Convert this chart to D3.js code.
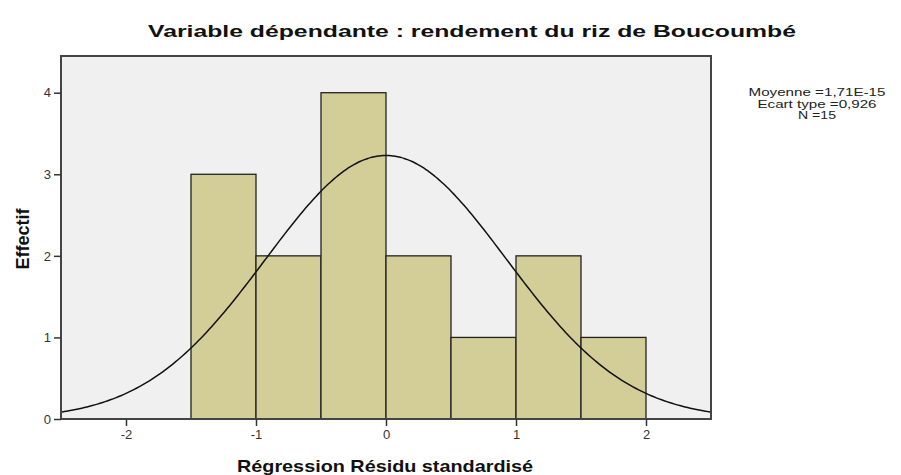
<!DOCTYPE html>
<html>
<head>
<meta charset="utf-8">
<script src="https://cdn.jsdelivr.net/npm/d3@7"></script>
<style>
  body { margin: 0; background: #fff; }
  text { font-family: "Liberation Sans", Arial, sans-serif; }
</style>
</head>
<body>
<div id="plot"></div>
<script>
// histogram bins (lower edge) and counts
const binStarts = [-1.5, -1.0, -0.5, 0.0, 0.5, 1.0, 1.5];
const binWidth = 0.5;
const counts = [3, 2, 4, 2, 1, 2, 1];
const xTicks = [-2, -1, 0, 1, 2];
const yTicks = [0, 1, 2, 3, 4];
const statLines = ["Moyenne =1,71E-15", "Ecart type =0,926", "N =15"];
const statWidths = [137, 119, 38];
const mean = 0, sd = 0.926, n = 15;

const svgWidth = 901, svgHeight = 475;
const margin = { top: 56, right: 190, bottom: 56, left: 61 };

const svg = d3.select("#plot").append("svg")
  .attr("width", svgWidth)
  .attr("height", svgHeight);

const xScale = d3.scaleLinear().domain([-2.5, 2.5]).range([margin.left, svgWidth - margin.right]);
const yScale = d3.scaleLinear().domain([0, 4.45]).range([svgHeight - margin.bottom, margin.top]);

// plot background
svg.append("rect")
  .attr("x", xScale(-2.5))
  .attr("y", yScale(4.45))
  .attr("width", xScale(2.5) - xScale(-2.5))
  .attr("height", yScale(0) - yScale(4.45))
  .style("fill", "#f0f0f0");

// bars
svg.selectAll(".bar")
  .data(binStarts)
  .enter()
  .append("rect")
  .attr("class", "bar")
  .attr("x", d => xScale(d))
  .attr("y", (d, i) => yScale(counts[i]))
  .attr("width", xScale(binWidth) - xScale(0))
  .attr("height", (d, i) => yScale(0) - yScale(counts[i]))
  .style("fill", "#d3cd98")
  .style("stroke", "#222")
  .style("stroke-width", 1.3);

// normal curve scaled to the histogram
const curveX = d3.range(-2.5, 2.501, 0.02);
const line = d3.line()
  .x(d => xScale(d))
  .y(d => yScale(n * binWidth * Math.exp(-0.5 * ((d - mean) / sd) ** 2) / (sd * Math.sqrt(2 * Math.PI))))
  .curve(d3.curveBasis);
svg.append("path")
  .datum(curveX)
  .attr("d", line)
  .style("fill", "none")
  .style("stroke", "#111")
  .style("stroke-width", 1.5);

// frame
svg.append("rect")
  .attr("x", xScale(-2.5))
  .attr("y", yScale(4.45))
  .attr("width", xScale(2.5) - xScale(-2.5))
  .attr("height", yScale(0) - yScale(4.45))
  .style("fill", "none")
  .style("stroke", "#444")
  .style("stroke-width", 2);

// axes (plain hyphen for negatives, like the original)
const fmt = d => String(d);
const xAxis = svg.append("g")
  .attr("transform", "translate(0," + yScale(0) + ")")
  .call(d3.axisBottom(xScale).tickValues(xTicks).tickSize(7).tickPadding(4).tickFormat(fmt));
const yAxis = svg.append("g")
  .attr("transform", "translate(" + xScale(-2.5) + ",0)")
  .call(d3.axisLeft(yScale).tickValues(yTicks).tickSize(7).tickPadding(3).tickFormat(fmt));
[xAxis, yAxis].forEach(a => {
  a.select(".domain").remove();
  a.selectAll("line").style("stroke", "#333").style("stroke-width", 1.5);
  a.selectAll("text").style("font-size", "13px").style("fill", "#333")
    .style("font-family", "'Liberation Sans', Arial, sans-serif");
});

// title (the original is stretched horizontally)
svg.append("text")
  .attr("x", 472)
  .attr("y", 37)
  .attr("textLength", 648)
  .attr("lengthAdjust", "spacingAndGlyphs")
  .style("text-anchor", "middle")
  .style("font-size", "17px")
  .style("font-weight", "bold")
  .style("fill", "#111")
  .text("Variable dépendante : rendement du riz de Boucoumbé");

// x-axis label
svg.append("text")
  .attr("x", 385)
  .attr("y", 472)
  .attr("textLength", 296)
  .attr("lengthAdjust", "spacingAndGlyphs")
  .style("text-anchor", "middle")
  .style("font-size", "17px")
  .style("font-weight", "bold")
  .style("fill", "#111")
  .text("Régression Résidu standardisé");

// y-axis label
svg.append("text")
  .attr("transform", "rotate(-90)")
  .attr("x", -239)
  .attr("y", 29)
  .style("text-anchor", "middle")
  .style("font-size", "18px")
  .style("font-weight", "bold")
  .style("fill", "#111")
  .text("Effectif");

// stats box
svg.selectAll(".stat")
  .data(statLines)
  .enter()
  .append("text")
  .attr("class", "stat")
  .attr("x", 817)
  .attr("y", (d, i) => 96 + i * 11.5)
  .attr("textLength", (d, i) => statWidths[i])
  .attr("lengthAdjust", "spacingAndGlyphs")
  .style("text-anchor", "middle")
  .style("font-size", "11.5px")
  .style("fill", "#222")
  .text(d => d);
</script>
</body>
</html>
